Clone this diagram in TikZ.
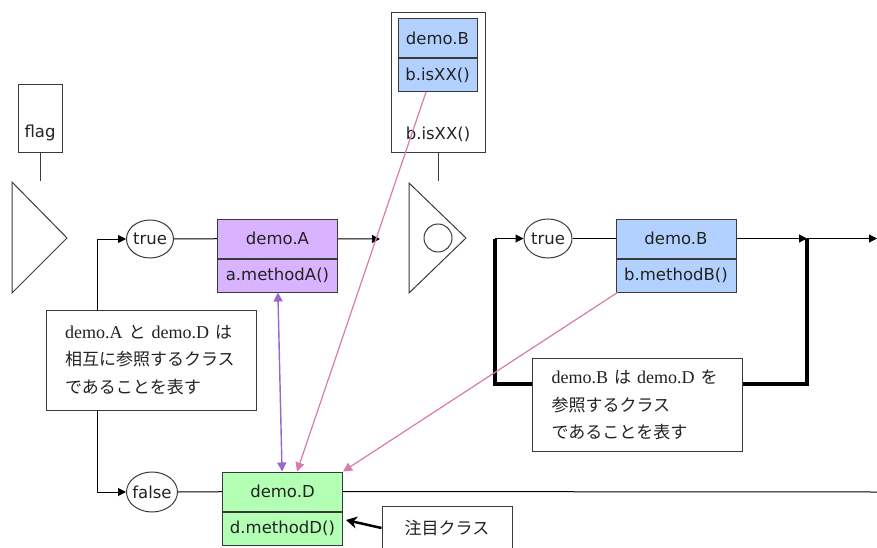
\documentclass[tikz,border=0pt]{standalone}
\usepackage{fontspec}
\newfontfamily\uifont{DejaVu Sans}
\newfontfamily\jpfont{Noto Sans CJK JP}
\newfontfamily\notefont{Liberation Serif}[Scale=1.06]
\usetikzlibrary{arrows.meta,positioning,shapes.geometric,calc}
\definecolor{lilac}{HTML}{D9B3FF}
\definecolor{sky}{HTML}{B3D1FF}
\definecolor{mint}{HTML}{B3FFB3}
\definecolor{violet}{HTML}{9966CC}
\definecolor{rose}{HTML}{D67BAD}
\definecolor{edge}{HTML}{3A3A3A}
\definecolor{ink}{HTML}{222222}

\begin{document}
\begin{tikzpicture}[x=1pt, y=-1pt,
  >={Triangle[length=8pt,width=8pt]},
  ui/.style={font=\uifont\fontsize{16.5}{18}\selectfont, text=ink},
  cls/.style={ui, draw=edge, line width=1pt, minimum width=120pt, minimum height=39pt, inner sep=0pt},
  mth/.style={cls, minimum height=33pt},
  cond/.style={ui, ellipse, draw=edge, line width=1pt, inner sep=-6pt, minimum width=47pt, minimum height=38pt},
  note/.style={draw=edge, line width=1pt, fill=white, align=left, text width=172pt, inner xsep=19pt, text=ink, font=\notefont\fontsize{17}{27.5}\selectfont},
  wire/.style={draw=black, line width=1pt},
]

  \useasboundingbox (0,0) rectangle (877,548);

  % first branch
  \node[ui, draw=edge, line width=1pt, anchor=north, minimum width=44pt, inner xsep=0pt, inner ysep=7pt, text height=46pt, text depth=8pt] (flag) at (40,84) {flag};
  \draw[edge, line width=1pt] (12,182) -- (12,293) -- (67,238) -- cycle;
  \coordinate (flagin) at (40,181);
  \draw[wire, draw=edge] (flag) -- (flagin);

  \node[cond] (trueA) at (150,239) {true};
  \node[cond, minimum width=51pt, minimum height=40pt] (falseA) at (152,492) {false};
  \node[cls, fill=lilac] (clsA) at (277.5,238.5) {demo.A};
  \node[mth, fill=lilac, below=0pt of clsA] (mthA) {a.methodA()};
  \node[cls, fill=mint] (clsD) at (282.5,491.5) {demo.D};
  \node[mth, fill=mint, below=0pt of clsD] (mthD) {d.methodD()};

  \coordinate (splitA) at (97,365);
  \coordinate (outA) at (380,239);
  \coordinate (endD) at (877,492);
  \draw[wire, ->] (splitA) |- (trueA);
  \draw[wire, ->] (splitA) |- (falseA);
  \draw[wire] (trueA) -- (clsA);
  \draw[wire] (falseA) -- (clsD);
  \draw[wire] (clsA) edge[->] (outA);
  \draw[wire] (clsD) -- (endD);

  % second branch
  \node[ui, draw=edge, line width=1pt, anchor=north, minimum width=94pt, inner ysep=7pt, text height=120pt, text depth=6pt] (guard) at (438,12) {b.isXX()};
  \node[cls, fill=sky, minimum width=79pt] (clsX) at (437.5,38) {demo.B};
  \node[mth, fill=sky, minimum width=79pt, below=0pt of clsX] (mthX) {b.isXX()};
  \draw[edge, line width=1pt] (409,183) -- (409,293) -- (466,238) -- cycle;
  \draw[edge, line width=1pt] (438,238) circle (14);
  \coordinate (guardin) at (438,181);
  \draw[wire, draw=edge] (guard) -- (guardin);

  \node[cond, minimum width=48pt, minimum height=39pt] (trueB) at (548,238.5) {true};
  \node[cls, fill=sky] (clsB) at (676,238.5) {demo.B};
  \node[mth, fill=sky, below=0pt of clsB] (mthB) {b.methodB()};

  \coordinate (loopin) at (495,238.5);
  \coordinate (loopout) at (807,238.5);
  \coordinate (loopbot) at (807,384);
  \coordinate (exit) at (877,238.5);
  \draw[wire, line width=4pt] (loopin) |- (loopbot) -- (loopout);
  \draw[wire] (loopin) edge[->] (trueB);
  \draw[wire] (trueB) -- (clsB);
  \draw[wire] (clsB) edge[->] (loopout);
  \draw[wire] (loopout) edge[->] (exit);

  % notes
  \node[note, minimum height=100pt] (noteA) at (151,360)
    {demo.A {\jpfont と} demo.D {\jpfont は}\\{\jpfont 相互に参照するクラス}\\{\jpfont であることを表す}};
  \node[note, minimum height=93pt] (noteB) at (637.5,405)
    {demo.B {\jpfont は} demo.D {\jpfont を}\\{\jpfont 参照するクラス}\\{\jpfont であることを表す}};
  \node[draw=edge, line width=1pt, fill=white, minimum width=130pt, minimum height=44pt, text=ink, font=\jpfont\fontsize{17}{20}\selectfont] (focus) at (447,528) {注目クラス};

  % references
  \draw[line width=2.5pt, -{Stealth[length=11pt,width=12pt]}] (focus.west) -- ($(mthD.east)+(3,-8.5)$);
  \draw[violet, line width=1.4pt, {Triangle[length=9pt,width=9pt]}-{Triangle[length=9pt,width=9pt]}] (mthA) -- (clsD);
  \draw[rose, line width=1.2pt, -{Triangle[length=9pt,width=9pt]}] ([xshift=-11.5pt]mthX.south) -- ([xshift=14.5pt]clsD.north);
  \draw[rose, line width=1.2pt, -{Triangle[length=9pt,width=9pt]}] ([xshift=2pt]mthB.south west) -- (clsD.north east);

\end{tikzpicture}
\end{document}
